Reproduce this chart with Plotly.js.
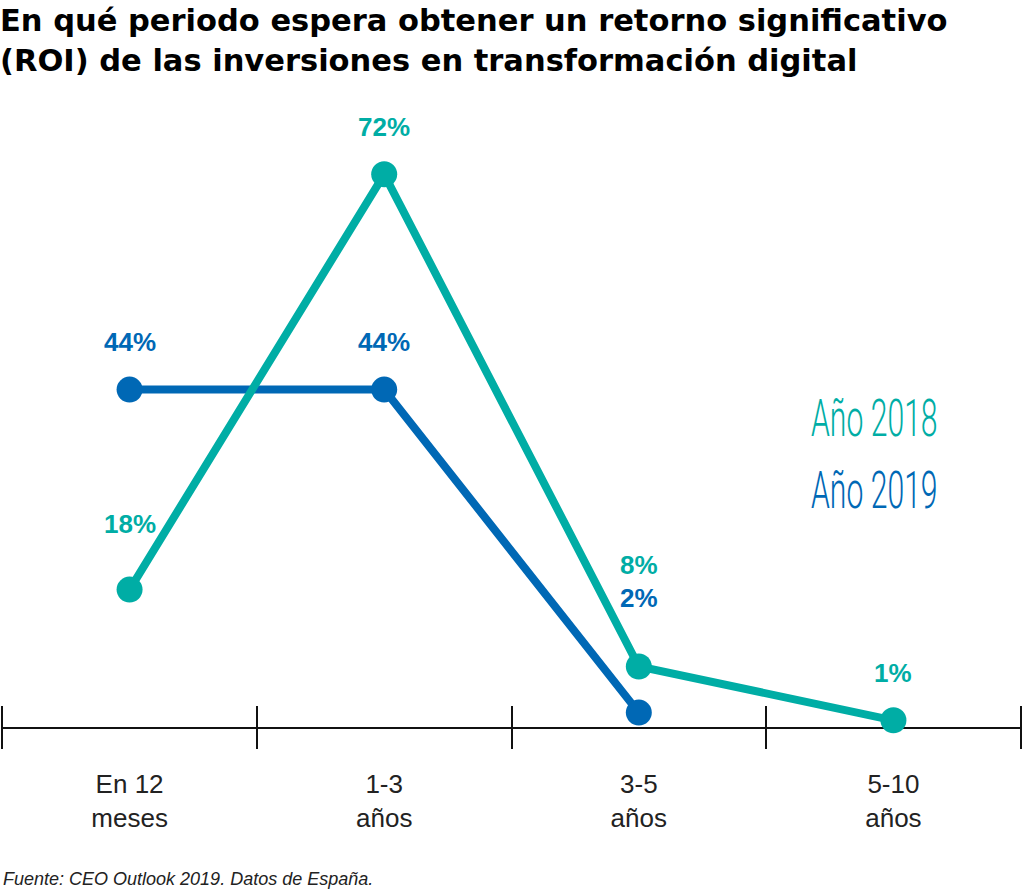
<!DOCTYPE html>
<html>
<head>
<meta charset="utf-8">
<script src="https://cdn.plot.ly/plotly-3.0.1.min.js"></script>
<style>html,body{margin:0;padding:0;background:#fff;}#chart{width:1024px;height:894px;}</style>
</head>
<body>
<div id="chart"></div>
<script>
// Data
const categories = ["En 12<br>meses", "1-3<br>años", "3-5<br>años", "5-10<br>años"];
const series2018 = [18, 72, 8, 1];
const series2019 = [44, 44, 2, null];
const labels2018 = ["18%", "72%", "8%", "1%"];
const labels2019 = ["44%", "44%", "2%", ""];
const seriesNames = ["Año 2018", "Año 2019"];

const TEAL = "#00ADA5";
const BLUE = "#0068B5";

// label vertical offsets (px above the point)
const shift2018 = [66, 47, 101, 47];
const shift2019 = [48, 48, 115, 0];

const traces = [
  {
    x: categories, y: series2019, name: seriesNames[1], type: "scatter", mode: "lines+markers",
    line: {color: BLUE, width: 8}, marker: {color: BLUE, size: 26}, cliponaxis: false,
    hoverinfo: "skip"
  },
  {
    x: categories, y: series2018, name: seriesNames[0], type: "scatter", mode: "lines+markers",
    line: {color: TEAL, width: 8}, marker: {color: TEAL, size: 26}, cliponaxis: false,
    hoverinfo: "skip"
  }
];

const labelFont = (c) => ({family: "Liberation Sans, Arial, sans-serif", size: 26, color: c});
const annotations = [];
categories.forEach((c, i) => {
  if (series2018[i] !== null && labels2018[i]) {
    annotations.push({x: c, y: series2018[i], xref: "x", yref: "y", text: "<b>" + labels2018[i] + "</b>",
      showarrow: false, yshift: shift2018[i], font: labelFont(TEAL)});
  }
  if (series2019[i] !== null && labels2019[i]) {
    annotations.push({x: c, y: series2019[i], xref: "x", yref: "y", text: "<b>" + labels2019[i] + "</b>",
      showarrow: false, yshift: shift2019[i], font: labelFont(BLUE)});
  }
});
// legend-like labels
const legendFont = (c) => ({family: "Roboto, Liberation Sans, sans-serif", size: 52, color: c, weight: 300});
annotations.push({xref: "paper", yref: "paper", x: 0.791, y: 0.5085, xanchor: "left", yanchor: "middle",
  text: seriesNames[0], showarrow: false, font: legendFont(TEAL)});
annotations.push({xref: "paper", yref: "paper", x: 0.791, y: 0.399, xanchor: "left", yanchor: "middle",
  text: seriesNames[1], showarrow: false, font: legendFont(BLUE)});
// source
annotations.push({xref: "paper", yref: "paper", x: 0, y: -0.2003, xanchor: "left", yanchor: "middle",
  text: "<i>Fuente: CEO Outlook 2019. Datos de España.</i>", showarrow: false,
  font: {family: "Liberation Sans, Arial, sans-serif", size: 18, color: "#222"}});

const layout = {
  width: 1024, height: 894,
  margin: {l: 1, r: 2, t: 100, b: 145, pad: 0},
  paper_bgcolor: "#fff", plot_bgcolor: "#fff",
  showlegend: false,
  title: {
    text: "<b>En qué periodo espera obtener un retorno significativo<br>(ROI) de las inversiones en transformación digital</b>",
    x: 0, xref: "container", xanchor: "left", y: 0.965, yref: "container", yanchor: "top",
    font: {family: "DejaVu Sans, Liberation Sans, sans-serif", size: 30.5, color: "#000"}
  },
  xaxis: {
    type: "category", range: [-0.505, 3.505], tickson: "boundaries",
    showline: false,
    ticks: "inside", ticklen: 43, tickwidth: 2, tickcolor: "#111",
    showgrid: false, zeroline: false, fixedrange: true,
    tickfont: {family: "Liberation Sans, Arial, sans-serif", size: 26, color: "#222"},
    ticklabelstandoff: 17
  },
  yaxis: {
    range: [-2.73, 81.66], showgrid: false, showticklabels: false, ticks: "",
    showline: false, zeroline: true, zerolinecolor: "#111", zerolinewidth: 2, fixedrange: true
  },
  annotations: annotations
};

Plotly.newPlot("chart", traces, layout, {displayModeBar: false, staticPlot: true}).then(() => {
  // condense the series labels horizontally, as in the reference's condensed typeface
  document.querySelectorAll(".annotation-text").forEach((el) => {
    if (seriesNames.includes(el.textContent)) {
      el.style.transformBox = "fill-box";
      el.style.transformOrigin = "left center";
      el.style.transform = "scaleX(0.58)";
    }
  });
});
</script>
</body>
</html>
